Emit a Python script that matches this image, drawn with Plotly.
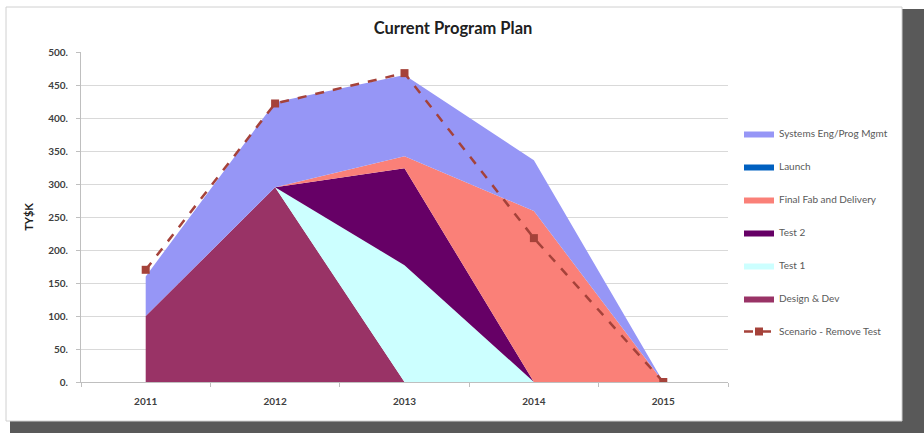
import plotly.graph_objects as go

years = ["2011", "2012", "2013", "2014", "2015"]
design_dev = [100, 295, 0, 0, 0]
test1 = [0, 0, 177, 0, 0]
test2 = [0, 0, 147, 0, 0]
final_fab = [0, 0, 18, 259, 0]
launch = [0, 0, 0, 0, 0]
systems_eng = [60, 129, 123, 77, 0]
scenario = [170, 422, 468, 218, 0]

y_ticks = [0, 50, 100, 150, 200, 250, 300, 350, 400, 450, 500]
y_tick_text = [f"{v}." for v in y_ticks]

W, H = 924, 433
L, R, T, B = 81, 728, 52, 382


def px(x):
    return (x - L) / (R - L)


def py(y):
    return (B - y) / (B - T)


fig = go.Figure()

areas = [
    ("Design & Dev", design_dev, "#993366", 6),
    ("Test 1", test1, "#CCFFFF", 5),
    ("Test 2", test2, "#660066", 4),
    ("Final Fab and Delivery", final_fab, "#FA8078", 3),
    ("Launch", launch, "#0060C0", 2),
    ("Systems Eng/Prog Mgmt", systems_eng, "#9696F6", 1),
]
for name, vals, col, rank in areas:
    fig.add_trace(go.Scatter(
        x=years, y=vals, name=name, mode="lines",
        stackgroup="one", line=dict(width=0, color=col),
        fillcolor=col, legendrank=rank, legendgroup=name,
    ))

fig.add_trace(go.Scatter(
    x=years, y=scenario, name="Scenario - Remove Test", mode="lines+markers",
    line=dict(color="#A5423A", width=2.5, dash="dash"),
    marker=dict(symbol="square", size=8, color="#A5423A"),
    legendrank=7, legendgroup="scen",
))

shapes = [
    dict(type="rect", xref="paper", yref="paper", layer="below",
         x0=px(10), x1=px(924), y0=py(9), y1=py(433),
         fillcolor="#595959", line=dict(width=0)),
    dict(type="rect", xref="paper", yref="paper", layer="below",
         x0=px(6), x1=px(902), y0=py(7), y1=py(421),
         fillcolor="white", line=dict(width=1, color="#D0D0D0")),
]

FONT = "Lato, Open Sans, Liberation Sans, sans-serif"
tick_font = dict(family=FONT, size=10, color="#404040", weight="bold")

fig.update_layout(
    width=W, height=H,
    margin=dict(l=L, r=W - R, t=T, b=H - B),
    paper_bgcolor="white", plot_bgcolor="rgba(0,0,0,0)",
    shapes=shapes,
    title=dict(text="<b>Current Program Plan</b>", x=453 / W, xref="container", xanchor="center",
               y=1 - 28 / H, yanchor="middle",
               font=dict(family=FONT, size=16.5, color="#202020")),
    showlegend=True,
    legend=dict(x=px(739), xanchor="left", y=py(119), yanchor="top",
                font=dict(family=FONT, size=10, color="#595959"),
                tracegroupgap=14, bgcolor="rgba(0,0,0,0)", itemwidth=30),
    xaxis=dict(type="category", range=[-0.5, 4.5], showgrid=False, showline=True, linecolor="#BFBFBF",
               ticks="outside", tickson="boundaries", ticklen=4, tickcolor="#BFBFBF",
               tickfont=tick_font, fixedrange=True, ticklabelstandoff=10),
    yaxis=dict(range=[0, 500], tickvals=y_ticks, ticktext=y_tick_text,
               showgrid=True, gridcolor="#D9D9D9", gridwidth=1,
               showline=True, linecolor="#BFBFBF", ticks="outside", ticklen=4,
               tickcolor="#BFBFBF", tickfont=tick_font, zeroline=False, ticklabelstandoff=6,
               title=dict(text="<b>TY$K</b>", standoff=12,
                          font=dict(family=FONT, size=11, color="#202020"))),
)

fig.write_html("out.html")
